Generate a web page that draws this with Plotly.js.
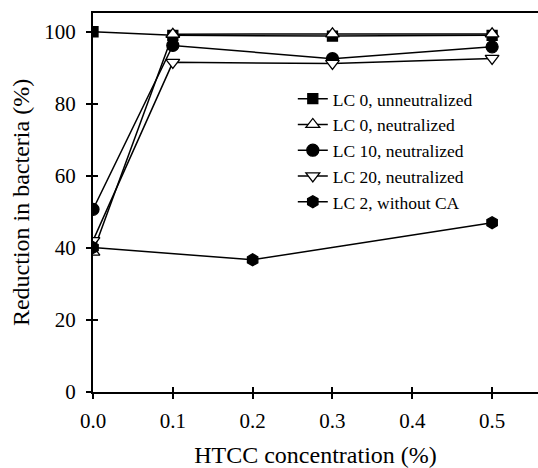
<!DOCTYPE html>
<html>
<head>
<meta charset="utf-8">
<script src="https://cdn.plot.ly/plotly-3.0.1.min.js"></script>
<style>html,body{margin:0;padding:0;background:#fff;}#chart{width:538px;height:468px;}</style>
</head>
<body>
<div id="chart"></div>
<script>
// Data
var xMain = [0, 0.1, 0.3, 0.5];
var xNoCA = [0, 0.2, 0.5];
var lc0Unneutralized = [100, 99, 98.8, 99];
var lc0Neutralized = [38.8, 99.3, 99.4, 99.4];
var lc10Neutralized = [50.7, 96.2, 92.5, 95.8];
var lc20Neutralized = [42, 91.5, 91.2, 92.6];
var lc2WithoutCA = [40.1, 36.7, 47.0];
var seriesNames = ["LC 0, unneutralized", "LC 0, neutralized", "LC 10, neutralized", "LC 20, neutralized", "LC 2, without CA"];
var xTicks = [0, 0.1, 0.2, 0.3, 0.4, 0.5];
var xTickText = ["0.0", "0.1", "0.2", "0.3", "0.4", "0.5"];
var yTicks = [0, 20, 40, 60, 80, 100];

var FONT = "Liberation Serif, Times New Roman, serif";
function tr(x, y, name, symbol, fill, size) {
  return {
    x: x, y: y, name: name, type: "scatter", mode: "lines+markers",
    line: {color: "#000", width: 1.5},
    marker: {symbol: symbol, size: size, color: fill, line: {color: "#000", width: 1.3}}
  };
}
var data = [
  tr(xMain, lc0Unneutralized, seriesNames[0], "square", "#000", 10),
  tr(xMain, lc0Neutralized, seriesNames[1], "triangle-up", "#fff", 12),
  tr(xMain, lc10Neutralized, seriesNames[2], "circle", "#000", 12),
  tr(xMain, lc20Neutralized, seriesNames[3], "triangle-down", "#fff", 12),
  tr(xNoCA, lc2WithoutCA, seriesNames[4], "hexagon", "#000", 12)
];
// Inside-tick overlay axes so ticks cross the axis lines
data.push({x: [0], y: [0], xaxis: "x2", yaxis: "y2", mode: "markers", marker: {opacity: 0}, showlegend: false, hoverinfo: "skip"});

var xr = [0, 0.5575], yr = [0, 105.2];
var layout = {
  width: 538, height: 468,
  margin: {l: 93, r: 0, t: 13, b: 76},
  paper_bgcolor: "#fff", plot_bgcolor: "#fff",
  font: {family: FONT, size: 18, color: "#000"},
  showlegend: true,
  legend: {x: 0.449, y: 0.821, xanchor: "left", yanchor: "top", bgcolor: "rgba(0,0,0,0)", font: {family: FONT, size: 17.5}, tracegroupgap: 0},
  xaxis: {
    range: xr, tickvals: xTicks, ticktext: xTickText, ticks: "outside", ticklen: 5, tickwidth: 2, tickcolor: "#000",
    showline: true, linewidth: 2, linecolor: "#000", mirror: true, showgrid: false, zeroline: false,
    tickfont: {family: FONT, size: 21}, ticklabelstandoff: 4,
    title: {text: "HTCC concentration (%)", font: {family: FONT, size: 24}, standoff: 16}
  },
  yaxis: {
    range: yr, tickvals: yTicks, ticks: "outside", ticklen: 5, tickwidth: 2, tickcolor: "#000",
    showline: true, linewidth: 2, linecolor: "#000", showgrid: false, zeroline: false,
    tickfont: {family: FONT, size: 21}, ticklabelstandoff: 6,
    title: {text: "Reduction in bacteria (%)", font: {family: FONT, size: 24}, standoff: 8}
  },
  xaxis2: {overlaying: "x", range: xr, tickvals: xTicks, ticks: "inside", ticklen: 5, tickwidth: 2, tickcolor: "#000", showticklabels: false, showgrid: false, zeroline: false, showline: false},
  yaxis2: {overlaying: "y", range: yr, tickvals: yTicks, ticks: "inside", ticklen: 5, tickwidth: 2, tickcolor: "#000", showticklabels: false, showgrid: false, zeroline: false, showline: false}
};
Plotly.newPlot("chart", data, layout, {displayModeBar: false, staticPlot: true});
</script>
</body>
</html>
